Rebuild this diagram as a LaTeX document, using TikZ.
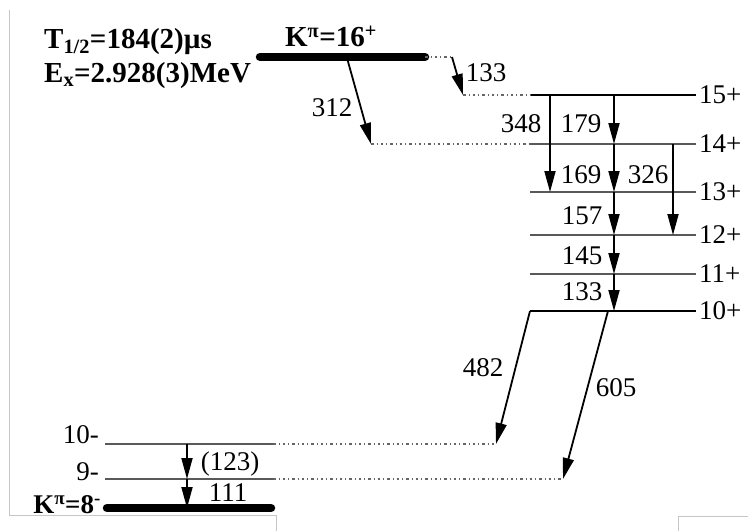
\documentclass[tikz,border=0pt]{standalone}
\usepackage{fontspec}
\setmainfont{Liberation Serif}
\usetikzlibrary{arrows.meta}
\tikzset{
  band/.style={line width=8.5pt,line cap=round},
  mainlvl/.style={line width=2.3pt,draw=black},
  lvl/.style={line width=1.7pt,draw=black!65},
  link/.style={line width=1.8pt,draw=black!60,dash pattern=on 2.5pt off 3pt on 1pt off 3pt},
  gam/.style={-{Triangle[length=21pt,width=11pt]},line width=1.8pt},
  elab/.style={font=\fontsize{27}{29}\selectfont,inner sep=0pt},
  spinlab/.style={font=\fontsize{27}{29}\selectfont,anchor=west,inner sep=0pt},
  boldlab/.style={font=\fontsize{29}{31}\selectfont\bfseries,inner sep=0pt},
  frame/.style={draw=gray!45,line width=1pt}
}
\begin{document}
\begin{tikzpicture}[x=1pt,y=-1pt]
\useasboundingbox (0,0) rectangle (748,531);

% edges of the scan
\draw[frame] (9,10) -- (9,515) -- (276,515) -- (276,531);
\draw[frame] (678,531) -- (678,516) -- (748,516);

% isomer data
\node[boldlab,anchor=west] (thalf) at (44,42) {T\textsubscript{1/2}=184(2)µs};
\node[boldlab,anchor=west] (exen) at (44,76) {E\textsubscript{x}=2.928(3)MeV};

% K=16+ isomer
\coordinate (k16L) at (260,57);
\coordinate (k16R) at (425,57);
\draw[band] (k16L) -- (k16R);
\node[boldlab] (k16lab) at (331,36) {K\textsuperscript{π}=16\textsuperscript{+}};

% rotational band on top of 10+
\foreach \s/\yy/\st in {15/95/mainlvl,14/144/lvl,13/192/lvl,12/235/lvl,11/274/lvl,10/311/mainlvl}{
  \coordinate (L\s) at (530,\yy);
  \coordinate (R\s) at (696,\yy);
  \draw[\st] (L\s) -- (R\s);
  \node[spinlab] (s\s) at ([xshift=3pt]R\s) {\s+};
}

% K=8- band
\coordinate (m10L) at (105,444);
\coordinate (m10R) at (273,444);
\coordinate (m9L) at (105,479);
\coordinate (m9R) at (273,479);
\coordinate (k8L) at (107,508);
\coordinate (k8R) at (271,508);
\draw[lvl] (m10L) -- (m10R);
\draw[lvl] (m9L) -- (m9R);
\draw[band] (k8L) -- (k8R);
\node[elab,anchor=east] (s10m) at (99,435) {10-};
\node[elab,anchor=east] (s9m) at (99,472) {9-};
\node[boldlab,anchor=east,font=\fontsize{27}{29}\selectfont\bfseries] (k8lab) at (101,505) {K\textsuperscript{π}=8\textsuperscript{-}};

% isomer decay
\coordinate (t133) at (452,57);
\coordinate (h133) at (463,95);
\coordinate (s312) at (347,58);
\coordinate (h312) at (371,144);
\draw[link] (k16R) -- (t133);
\draw[gam] (t133) -- (h133);
\draw[link] (h133) -- (L15);
\draw[gam] (s312) -- (h312);
\draw[link] (h312) -- (L14);

% in-band transitions
\coordinate (cA) at (550,0);
\coordinate (cB) at (614,0);
\coordinate (cC) at (673,0);
\draw[gam] (cA |- L15) -- (cA |- L13);
\foreach \a/\b in {15/14,14/13,13/12,12/11,11/10}{
  \draw[gam] (cB |- L\a) -- (cB |- L\b);
}
\draw[gam] (cC |- L14) -- (cC |- L12);

% out-of-band decay
\coordinate (o605) at (608,311);
\coordinate (h482) at (496,444);
\coordinate (h605) at (563,479);
\draw[gam] (L10) -- (h482);
\draw[gam] (o605) -- (h605);
\draw[link] (m10R) -- (h482);
\draw[link] (m9R) -- (h605);

% K=8- cascade
\coordinate (cD) at (187,0);
\draw[gam] (cD |- m10L) -- (cD |- m9L);
\draw[gam] (cD |- m9L) -- (cD |- k8L);

% energies
\node[elab] (e133a) at (486,73) {133};
\node[elab] (e312) at (332,108) {312};
\node[elab] (e348) at (521,124) {348};
\node[elab] (e179) at (581,124) {179};
\node[elab] (e169) at (581,175) {169};
\node[elab] (e326) at (648,175) {326};
\node[elab] (e157) at (582,216) {157};
\node[elab] (e145) at (582,256) {145};
\node[elab] (e133b) at (582,292) {133};
\node[elab] (e482) at (483,368) {482};
\node[elab] (e605) at (616,388) {605};
\node[elab] (e123) at (230,464) {(123)};
\node[elab] (e111) at (228,493) {111};
\end{tikzpicture}
\end{document}
